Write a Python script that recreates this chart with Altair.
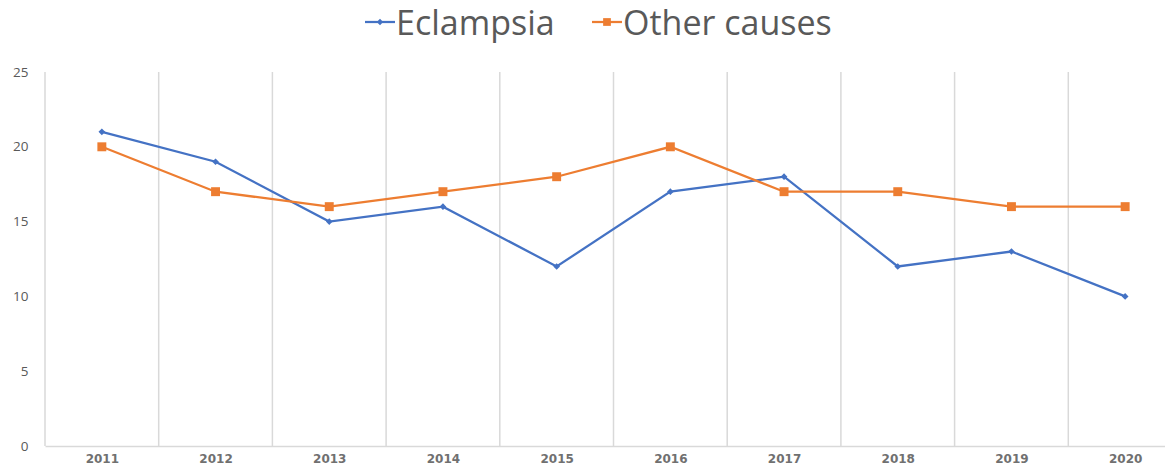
import altair as alt
import pandas as pd

years = [2011, 2012, 2013, 2014, 2015, 2016, 2017, 2018, 2019, 2020]
eclampsia = [21, 19, 15, 16, 12, 17, 18, 12, 13, 10]
other_causes = [20, 17, 16, 17, 18, 20, 17, 17, 16, 16]
series_names = ["Eclampsia", "Other causes"]
series_colors = ["#4472C4", "#ED7D31"]
y_ticks = [0, 5, 10, 15, 20, 25]

W, H = 1120, 374
BAND = 113.7
FONT = "Open Sans"
GRAY = "#595959"

df = pd.DataFrame({
    "year": years * 2,
    "value": eclampsia + other_causes,
    "series": [series_names[0]] * len(years) + [series_names[1]] * len(years),
})
grid_df = pd.DataFrame({"year": years})

x_lo = years[0] - 0.5
x_hi = x_lo + W / BAND
xscale = alt.Scale(domain=[x_lo, x_hi], nice=False, zero=False)
yscale = alt.Scale(domain=[0, 25], nice=False)
cscale = alt.Scale(domain=series_names, range=series_colors)

x_axis = alt.Axis(values=years, format="d", title=None, grid=False, ticks=False,
                  domain=True, domainColor="#D9D9D9", domainWidth=1.5,
                  labelColor="#707070", labelFont="DejaVu Sans", labelFontSize=12,
                  labelFontWeight="bold", labelPadding=7)
y_axis = alt.Axis(values=y_ticks, title=None, grid=False, ticks=False, domain=False,
                  labelColor=GRAY, labelFont=FONT, labelFontSize=13.5, labelPadding=17)

grid = alt.Chart(grid_df).transform_calculate(gx="datum.year - 0.5").mark_rule(
    color="#D9D9D9", strokeWidth=1.5
).encode(
    x=alt.X("gx:Q", scale=xscale, axis=x_axis),
    y=alt.value(0), y2=alt.value(H),
)

base = alt.Chart(df).encode(
    x=alt.X("year:Q", scale=xscale, axis=x_axis),
    y=alt.Y("value:Q", scale=yscale, axis=y_axis),
    color=alt.Color("series:N", scale=cscale, legend=None),
)

lines = base.mark_line(strokeWidth=2.25)
ecl_pts = base.transform_filter(alt.datum.series == series_names[0]).mark_point(
    shape="diamond", filled=True, size=45, opacity=1)
oth_pts = base.transform_filter(alt.datum.series == series_names[1]).mark_square(
    size=80, opacity=1)

# manual legend (Excel style: line with marker, then label)
def legend_item(name, color, shape, size, x0):
    one = pd.DataFrame({"name": [name]})
    ln = alt.Chart(one).mark_rule(color=color, strokeWidth=2.25).encode(
        x=alt.value(x0), x2=alt.value(x0 + 30), y=alt.value(-50))
    pt = alt.Chart(one).mark_point(shape=shape, filled=True, size=size, color=color,
                                   opacity=1).encode(x=alt.value(x0 + 15), y=alt.value(-50))
    tx = alt.Chart(one).mark_text(align="left", baseline="alphabetic", font=FONT, fontSize=34,
                                  color=GRAY).encode(
        x=alt.value(x0 + 31), y=alt.value(-37), text="name:N")
    return ln + pt + tx

leg1 = legend_item(series_names[0], series_colors[0], "diamond", 40, 320)
leg2 = legend_item(series_names[1], series_colors[1], "square", 60, 547)

chart = alt.layer(grid, lines, ecl_pts, oth_pts, leg1, leg2).properties(
    width=W, height=H,
    autosize=alt.AutoSizeParams(type="none"),
    padding={"left": 37, "top": 64, "right": 0, "bottom": 22},
    background="white",
).configure_view(stroke=None)

chart.save("out.html", embed_options={"renderer": "svg", "actions": False})
